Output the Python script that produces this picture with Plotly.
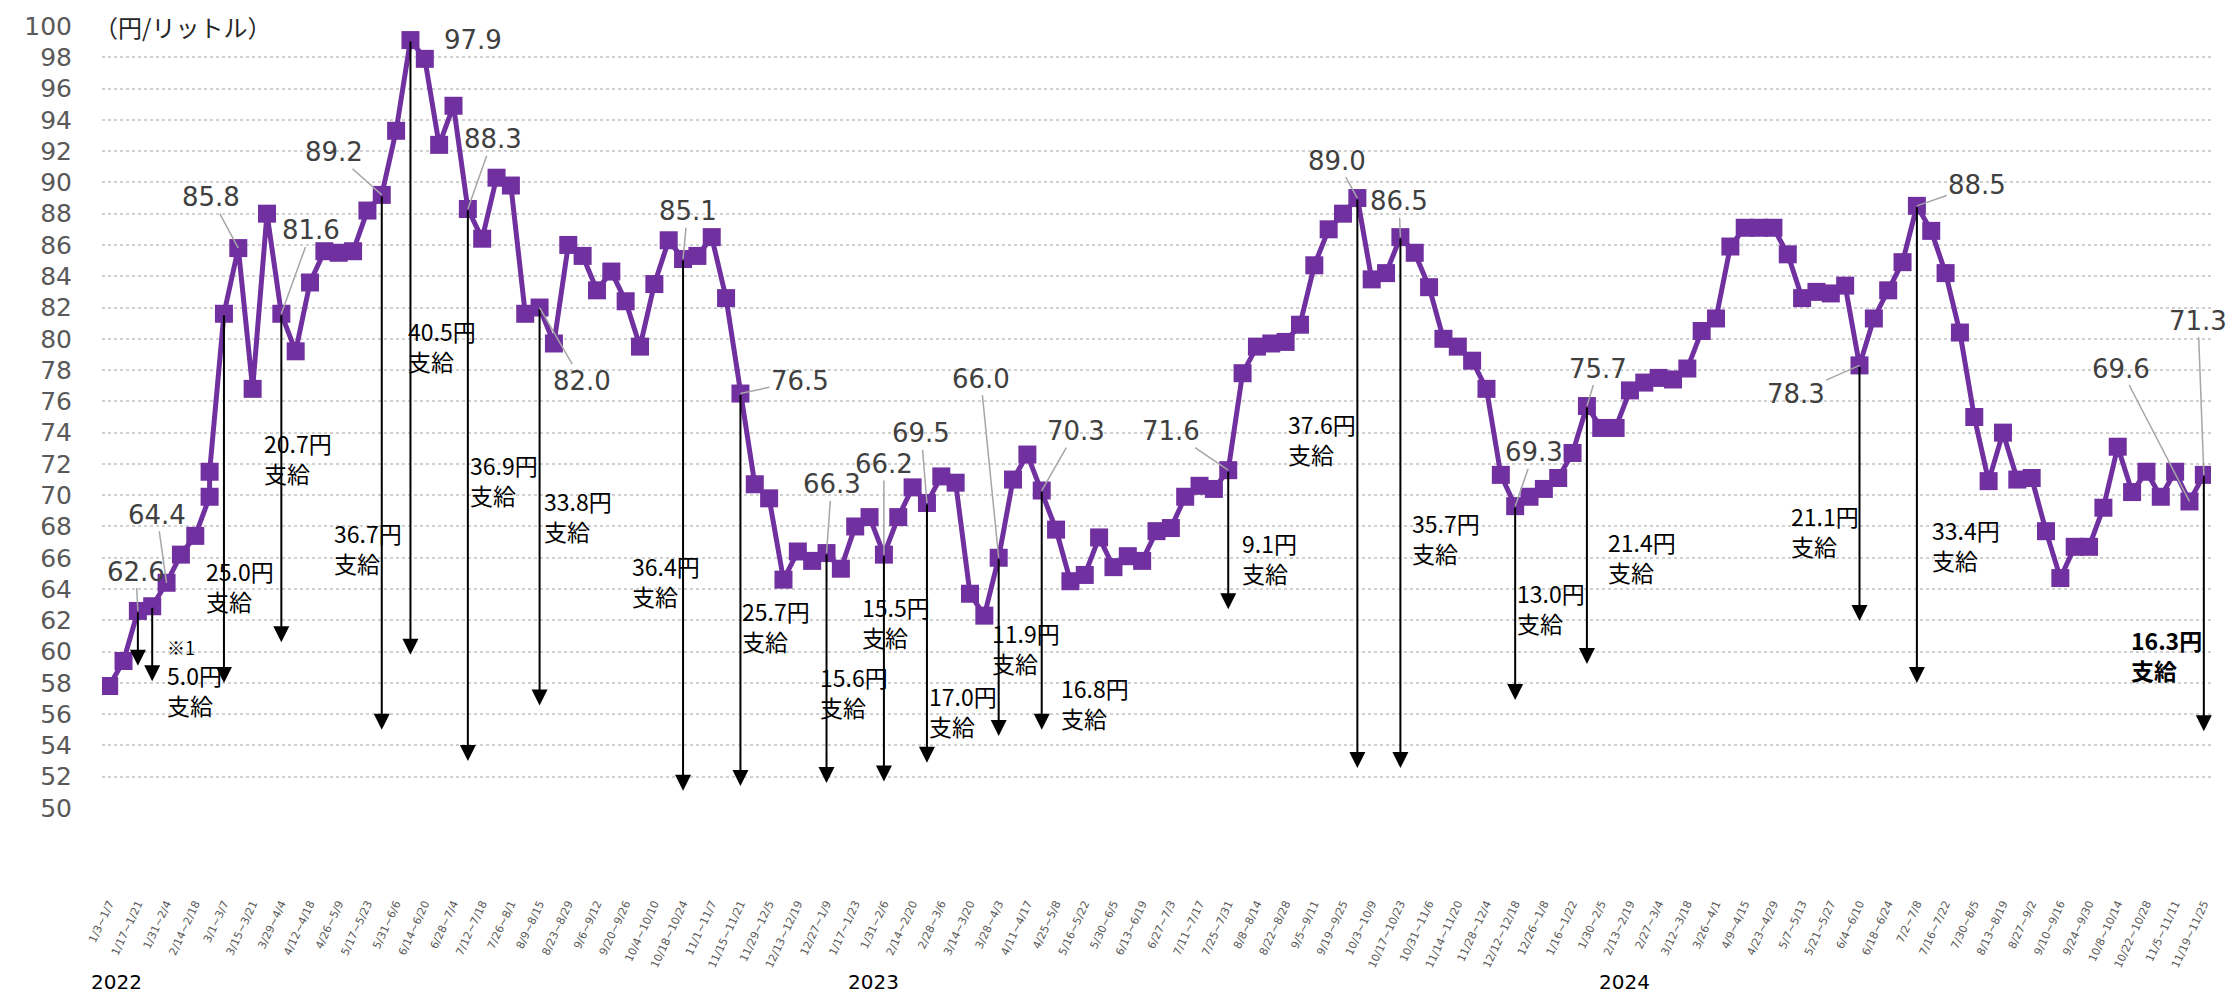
import plotly.graph_objects as go

# ---------------- data ----------------
weeks = [
    # 2022
    "1/3~1/7", "1/10~1/14", "1/17~1/21", "1/24~1/28", "1/31~2/4", "2/7~2/11", "2/14~2/18", "2/21~2/28",
    "3/1~3/7", "3/8~3/14", "3/15~3/21", "3/22~3/28", "3/29~4/4", "4/5~4/11", "4/12~4/18", "4/19~4/25",
    "4/26~5/9", "5/10~5/16", "5/17~5/23", "5/24~5/30", "5/31~6/6", "6/7~6/13", "6/14~6/20", "6/21~6/27",
    "6/28~7/4", "7/5~7/11", "7/12~7/18", "7/19~7/25", "7/26~8/1", "8/2~8/8", "8/9~8/15", "8/16~8/22",
    "8/23~8/29", "8/30~9/5", "9/6~9/12", "9/13~9/19", "9/20~9/26", "9/27~10/3", "10/4~10/10", "10/11~10/17",
    "10/18~10/24", "10/25~10/31", "11/1~11/7", "11/8~11/14", "11/15~11/21", "11/22~11/28", "11/29~12/5",
    "12/6~12/12", "12/13~12/19", "12/20~12/26", "12/27~1/9",
    # 2023
    "1/10~1/16", "1/17~1/23", "1/24~1/30", "1/31~2/6", "2/7~2/13", "2/14~2/20", "2/21~2/27", "2/28~3/6",
    "3/7~3/13", "3/14~3/20", "3/21~3/27", "3/28~4/3", "4/4~4/10", "4/11~4/17", "4/18~4/24", "4/25~5/8",
    "5/9~5/15", "5/16~5/22", "5/23~5/29", "5/30~6/5", "6/6~6/12", "6/13~6/19", "6/20~6/26", "6/27~7/3",
    "7/4~7/10", "7/11~7/17", "7/18~7/24", "7/25~7/31", "8/1~8/7", "8/8~8/14", "8/15~8/21", "8/22~8/28",
    "8/29~9/4", "9/5~9/11", "9/12~9/18", "9/19~9/25", "9/26~10/2", "10/3~10/9", "10/10~10/16", "10/17~10/23",
    "10/24~10/30", "10/31~11/6", "11/7~11/13", "11/14~11/20", "11/21~11/27", "11/28~12/4", "12/5~12/11",
    "12/12~12/18", "12/19~12/25", "12/26~1/8",
    # 2024
    "1/9~1/15", "1/16~1/22", "1/23~1/29", "1/30~2/5", "2/6~2/12", "2/13~2/19", "2/20~2/26", "2/27~3/4",
    "3/5~3/11", "3/12~3/18", "3/19~3/25", "3/26~4/1", "4/2~4/8", "4/9~4/15", "4/16~4/22", "4/23~4/29",
    "4/30~5/6", "5/7~5/13", "5/14~5/20", "5/21~5/27", "5/28~6/3", "6/4~6/10", "6/11~6/17", "6/18~6/24",
    "6/25~7/1", "7/2~7/8", "7/9~7/15", "7/16~7/22", "7/23~7/29", "7/30~8/5", "8/6~8/12", "8/13~8/19",
    "8/20~8/26", "8/27~9/2", "9/3~9/9", "9/10~9/16", "9/17~9/23", "9/24~9/30", "10/1~10/7", "10/8~10/14",
    "10/15~10/21", "10/22~10/28", "10/29~11/4", "11/5~11/11", "11/12~11/18", "11/19~11/25",
]

# the 2/21~2/28 week carries two readings
point_weeks = weeks[:8] + [weeks[7]] + weeks[8:]

price = [
    57.8, 59.4, 62.6, 62.9, 64.4, 66.2, 67.4, 69.9, 71.5, 81.6,
    85.8, 76.8, 88.0, 81.6, 79.2, 83.6, 85.6, 85.5, 85.6, 88.2,
    89.2, 93.3, 99.1, 97.9, 92.4, 94.9, 88.3, 86.4, 90.3, 89.8,
    81.6, 82.0, 79.7, 86.0, 85.3, 83.1, 84.3, 82.4, 79.5, 83.5,
    86.3, 85.1, 85.3, 86.5, 82.6, 76.5, 70.7, 69.8, 64.6, 66.4,
    65.8, 66.3, 65.3, 68.0, 68.6, 66.2, 68.6, 70.5, 69.5, 71.2,
    70.8, 63.7, 62.3, 66.0, 71.0, 72.6, 70.3, 67.8, 64.5, 64.9,
    67.3, 65.4, 66.1, 65.8, 67.7, 67.9, 69.9, 70.6, 70.4, 71.6,
    77.8, 79.5, 79.7, 79.8, 80.9, 84.7, 87.0, 88.0, 89.0, 83.8,
    84.2, 86.5, 85.5, 83.3, 80.0, 79.5, 78.6, 76.8, 71.3, 69.3,
    69.9, 70.4, 71.1, 72.7, 75.7, 74.3, 74.3, 76.7, 77.2, 77.5,
    77.4, 78.1, 80.5, 81.3, 85.9, 87.1, 87.1, 87.1, 85.4, 82.6,
    83.0, 82.9, 83.4, 78.3, 81.3, 83.1, 84.9, 88.5, 86.9, 84.2,
    80.4, 75.0, 70.9, 74.0, 71.0, 71.1, 67.7, 64.7, 66.7, 66.7,
    69.2, 73.1, 70.2, 71.5, 69.9, 71.5, 69.6, 71.3,
]

# subsidy arrows: week, subsidy amount (円), arrow end value
sub_weeks = ["1/17~1/21", "1/24~1/28", "3/1~3/7", "3/29~4/4", "5/24~5/30", "6/7~6/13", "7/5~7/11",
             "8/9~8/15", "10/18~10/24", "11/15~11/21", "12/27~1/9", "1/31~2/6", "2/21~2/27", "3/28~4/3",
             "4/18~4/24", "7/25~7/31", "9/26~10/2", "10/17~10/23", "12/12~12/18", "1/23~1/29",
             "6/4~6/10", "7/2~7/8", "11/19~11/25"]
sub_amount = [3.4, 5.0, 25.0, 20.7, 36.7, 40.5, 36.9, 33.8, 36.4, 25.7, 15.6, 15.5, 17.0, 11.9,
              16.8, 9.1, 37.6, 35.7, 13.0, 21.4, 21.1, 33.4, 16.3]
sub_arrow_end = [59.1, 58.1, 58.0, 60.6, 55.0, 59.8, 53.0, 56.55, 51.1, 51.4, 51.6, 51.7, 52.9, 54.6,
                 55.0, 62.7, 52.55, 52.55, 56.9, 59.2, 61.95, 58.0, 54.9]

# labelled price points
label_weeks = ["1/17~1/21", "1/31~2/4", "3/8~3/14", "3/29~4/4", "5/24~5/30", "6/14~6/20", "7/5~7/11",
               "8/9~8/15", "10/18~10/24", "11/15~11/21", "12/27~1/9", "1/31~2/6", "2/21~2/27",
               "3/28~4/3", "4/18~4/24", "7/25~7/31", "9/26~10/2", "10/17~10/23", "12/12~12/18",
               "1/23~1/29", "6/4~6/10", "7/2~7/8", "11/12~11/18", "11/19~11/25"]

year_labels = ["2022", "2023", "2024"]

# ---------------- layout / style (positions) ----------------
PURPLE = "#7030A0"
GRID = "#D0D0D0"
LEADER = "#A6A6A6"
NUMFONT = "DejaVu Sans"
JPFONT = "Noto Sans CJK JP"

# subsidy text placement: (offset of left edge in weeks from arrow, centre value)
sub_label_pos = [(-3.18, 55.2), (0.9, 57.56), (-1.4, 64.2), (-1.34, 72.4), (-3.5, 66.6), (-0.3, 79.57),
                 (0.0, 70.97), (0.2, 68.68), (-3.7, 64.49), (0.0, 61.63), (-0.6, 57.4), (-1.7, 61.9),
                 (0.0, 56.2), (-0.6, 60.2), (1.2, 56.7), (0.8, 66.0), (-5.0, 73.57), (0.7, 67.24),
                 (0.0, 62.8), (1.3, 66.07), (-4.9, 67.7), (0.9, 66.8), (-5.2, 59.8)]
# value label text centre offset from its point (weeks, value units, draw leader)
val_label_off = [(-0.14, 2.52, True), (-0.67, 4.34, True), (-1.9, 3.24, True), (2.1, 5.33, True),
                 (-3.32, 2.73, True), (3.33, 1.2, False), (1.72, 4.46, True), (2.94, -4.67, True),
                 (0.31, 3.06, True), (4.15, 0.83, True), (0.35, 4.4, True), (0.0, 5.8, True),
                 (-0.4, 4.45, True), (-1.25, 11.45, True), (2.37, 3.8, True), (-4.0, 2.5, True),
                 (-1.45, 2.39, True), (-0.1, 2.3, True), (1.3, 3.44, True), (0.8, 2.4, True),
                 (-4.45, -1.8, True), (4.2, 1.35, True), (-4.8, 8.5, True), (-0.4, 9.86, True)]
year_pos = [0.5, 53.3, 105.6]

idx_of = {w: i for i, w in enumerate(weeks)}
price_of = {}
for w, p in zip(point_weeks, price):
    price_of.setdefault(w, p)

fig = go.Figure()
fig.add_trace(go.Scatter(
    x=point_weeks, y=price, mode="lines+markers",
    line=dict(color=PURPLE, width=5),
    marker=dict(symbol="square", size=18, color=PURPLE),
    hoverinfo="x+y", showlegend=False,
))

annotations = []
# subsidy arrows and texts
for k, (w, amt, end) in enumerate(zip(sub_weeks, sub_amount, sub_arrow_end)):
    i = idx_of[w]
    p = price_of[w]
    annotations.append(dict(
        x=i, y=end, ax=i, ay=p, xref="x", yref="y", axref="x", ayref="y",
        text="", showarrow=True, arrowhead=2, arrowsize=1.6, arrowwidth=2,
        arrowcolor="black", standoff=0, startstandoff=0,
    ))
    dx, yc = sub_label_pos[k]
    bold = (k == len(sub_weeks) - 1)
    txt = f"{amt:.1f}円<br>支給"
    if bold:
        txt = f"<b>{amt:.1f}円</b><br><b>支給</b>"
    annotations.append(dict(
        x=i + dx, y=yc, xref="x", yref="y", text=txt, showarrow=False,
        xanchor="left", yanchor="middle", align="left",
        font=dict(family=JPFONT, size=23, color="black"),
    ))
    if amt == 5.0:
        annotations.append(dict(
            x=i + dx, y=60.3, xref="x", yref="y", text="※1", showarrow=False,
            xanchor="left", yanchor="middle", font=dict(family=JPFONT, size=18, color="black"),
        ))

# value labels
for w, (dx, dy, lead) in zip(label_weeks, val_label_off):
    i = idx_of[w]
    p = price_of[w]
    if lead:
        annotations.append(dict(
            x=i, y=p, ax=i + dx, ay=p + dy, xref="x", yref="y", axref="x", ayref="y",
            text=f"{p:.1f}", showarrow=True, arrowhead=0, arrowwidth=1.5, arrowcolor=LEADER,
            standoff=0, font=dict(family=NUMFONT, size=26, color="#404040"),
        ))
    else:
        annotations.append(dict(
            x=i + dx, y=p + dy, xref="x", yref="y", text=f"{p:.1f}", showarrow=False,
            font=dict(family=NUMFONT, size=26, color="#404040"),
        ))

# unit label
annotations.append(dict(
    x=0, y=100, xref="paper", yref="y", text="（円/リットル）", showarrow=False,
    xanchor="left", yanchor="middle", bgcolor="white", xshift=-10,
    font=dict(family=JPFONT, size=24, color="#262626"),
))
# year labels
for yl, xp in zip(year_labels, year_pos):
    annotations.append(dict(
        x=xp, y=-0.2405, xref="x", yref="paper", text=yl, showarrow=False,
        xanchor="center", yanchor="bottom", font=dict(family=NUMFONT, size=20, color="black"),
    ))

fig.update_layout(
    width=2232, height=998,
    margin=dict(l=102, r=21, t=21, b=190),
    paper_bgcolor="white", plot_bgcolor="white",
    annotations=annotations,
    xaxis=dict(
        type="category", categoryorder="array", categoryarray=weeks,
        range=[-0.5, len(weeks) - 0.5],
        tickmode="array", tickvals=weeks[::2], ticktext=weeks[::2],
        tickangle=-65, tickfont=dict(family=NUMFONT, size=11, color="#595959"),
        ticks="outside", ticklen=84, tickcolor="rgba(0,0,0,0)",
        showgrid=False, showline=False, zeroline=False,
    ),
    yaxis=dict(
        range=[50, 100], tickmode="linear", tick0=50, dtick=2,
        tickfont=dict(family=NUMFONT, size=25, color="#595959"),
        ticks="outside", ticklen=24, tickcolor="rgba(0,0,0,0)",
        showgrid=True, gridcolor=GRID, gridwidth=2, griddash="dot",
        showline=False, zeroline=False,
    ),
)

fig.write_html("out.html", config={"displayModeBar": False},
               post_script="document.body.style.margin='0px';")
